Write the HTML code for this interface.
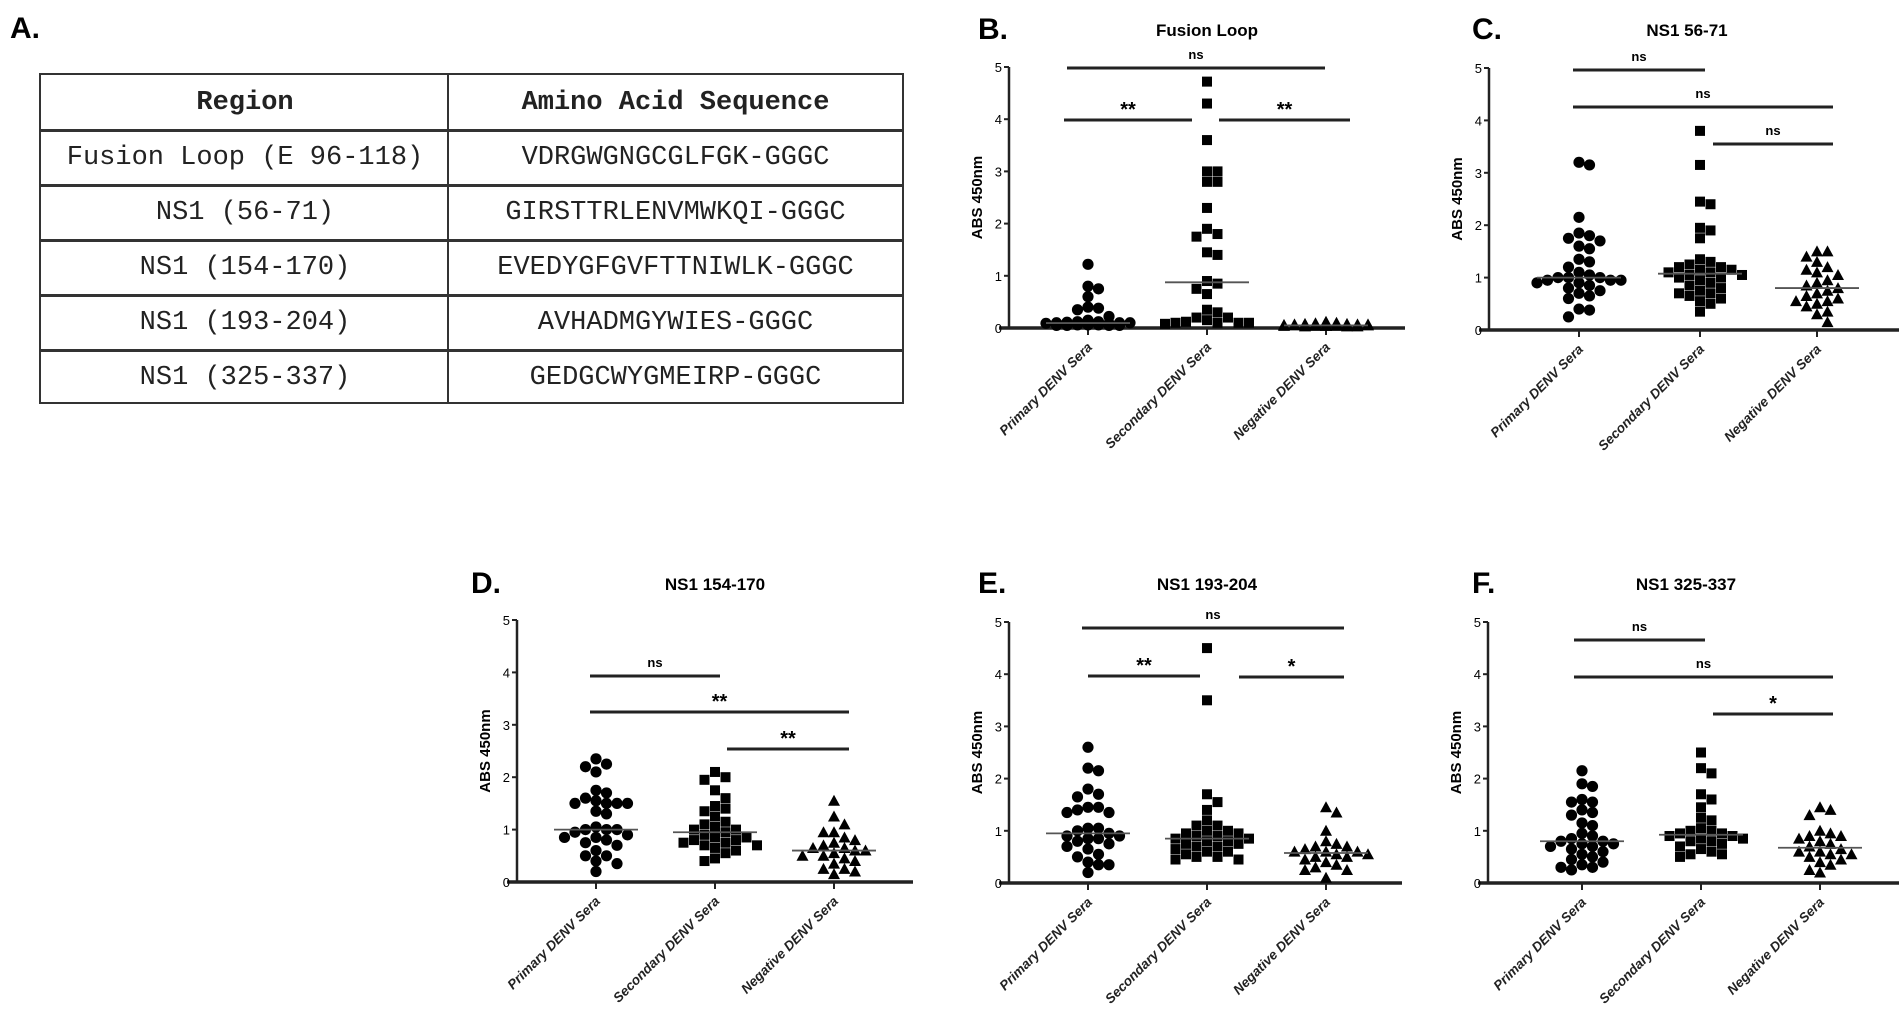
<!DOCTYPE html>
<html><head><meta charset="utf-8"><style>
html,body{margin:0;padding:0;background:#fff;}
#wrap{position:relative;width:1902px;height:1026px;overflow:hidden;font-family:"Liberation Sans",sans-serif;}
.cell{position:absolute;box-sizing:border-box;display:flex;align-items:center;justify-content:center;font-family:"Liberation Mono",monospace;font-size:27px;color:#222;}
.hl{position:absolute;background:#333;}
</style></head><body>
<div id="wrap">
<div style="position:absolute;left:10px;top:12px;font-size:30px;font-weight:bold;">A.</div>
<div id="table" style="position:absolute;left:39px;top:73px;width:865px;height:331px;border:2px solid #333;box-sizing:border-box;"></div>
<svg id="svg" width="1902" height="1026" style="position:absolute;left:0;top:0"></svg>
</div>
<script>
const regions=["Region","Fusion Loop (E 96-118)","NS1 (56-71)","NS1 (154-170)","NS1 (193-204)","NS1 (325-337)"];
const sequences=["Amino Acid Sequence","VDRGWGNGCGLFGK-GGGC","GIRSTTRLENVMWKQI-GGGC","EVEDYGFGVFTTNIWLK-GGGC","AVHADMGYWIES-GGGC","GEDGCWYGMEIRP-GGGC"];
const tbl=document.getElementById('table');
const rowH=55;
for(let i=0;i<6;i++){
  const a=document.createElement('div');a.className='cell';
  a.style.cssText+=`left:0;top:${i*rowH}px;width:408px;height:${rowH}px;${i==0?'font-weight:bold;':''}`;
  a.textContent=regions[i];
  
  
  tbl.appendChild(a);
  const b=document.createElement('div');b.className='cell';
  b.style.cssText+=`left:408px;top:${i*rowH}px;width:453px;height:${rowH}px;${i==0?'font-weight:bold;':''}`;
  b.textContent=sequences[i];
  
  
  tbl.appendChild(b);
  if(i>0){const l=document.createElement('div');l.className='hl';l.style.cssText=`left:0;top:${i*rowH-1}px;width:861px;height:3px;`;
  
  
  tbl.appendChild(l);}
}
const vd=document.createElement('div');vd.className='hl';vd.style.cssText='left:406px;top:0;width:2px;height:327px;';


tbl.appendChild(vd);

const categories=["Primary DENV Sera","Secondary DENV Sera","Negative DENV Sera"];
const yTicks=[0,1,2,3,4,5];
const bPrimary=[1.22,0.8,0.75,0.6,0.4,0.38,0.35,0.22,0.15,0.12,0.12,0.11,0.1,0.1,0.1,0.09,0.09,0.08,0.08,0.08,0.07,0.07,0.07,0.06,0.06,0.06,0.05,0.05,0.05,0.05];
const bSecondary=[4.72,4.3,3.6,3.0,3.0,2.8,2.8,2.3,1.9,1.8,1.75,1.45,1.4,0.9,0.85,0.75,0.65,0.35,0.3,0.2,0.2,0.15,0.12,0.1,0.1,0.1,0.1,0.08];
const bNegative=[0.12,0.1,0.09,0.08,0.08,0.07,0.07,0.07,0.06,0.06,0.06,0.06,0.05,0.05,0.05,0.05,0.05,0.04,0.04,0.04,0.04,0.04,0.03,0.03,0.03];
const cPrimary=[3.2,3.15,2.15,1.85,1.8,1.75,1.7,1.6,1.55,1.35,1.3,1.2,1.1,1.05,1.0,1.0,1.0,0.95,0.95,0.95,0.9,0.9,0.85,0.8,0.75,0.7,0.65,0.6,0.4,0.38,0.25];
const cSecondary=[3.8,3.15,2.45,2.4,1.95,1.9,1.75,1.35,1.3,1.25,1.2,1.2,1.15,1.15,1.1,1.1,1.05,1.05,1.0,1.0,0.95,0.9,0.85,0.8,0.75,0.7,0.7,0.65,0.6,0.55,0.5,0.35];
const cNegative=[1.5,1.5,1.4,1.3,1.2,1.15,1.1,1.05,0.95,0.9,0.85,0.8,0.75,0.7,0.65,0.6,0.55,0.55,0.5,0.45,0.35,0.3,0.15];
const dPrimary=[2.35,2.25,2.2,2.1,1.75,1.7,1.6,1.55,1.5,1.5,1.5,1.5,1.35,1.3,1.05,1.0,1.0,1.0,0.95,0.9,0.85,0.85,0.8,0.75,0.7,0.6,0.5,0.5,0.4,0.35,0.2];
const dSecondary=[2.1,2.0,1.95,1.75,1.6,1.45,1.4,1.35,1.25,1.15,1.1,1.05,1.0,1.0,0.95,0.9,0.85,0.85,0.8,0.8,0.75,0.75,0.7,0.7,0.65,0.6,0.55,0.45,0.4];
const dNegative=[1.55,1.25,1.1,0.95,0.95,0.85,0.8,0.75,0.7,0.65,0.65,0.6,0.6,0.55,0.5,0.5,0.45,0.4,0.35,0.25,0.25,0.2,0.15];
const ePrimary=[2.6,2.2,2.15,1.8,1.7,1.65,1.45,1.45,1.4,1.35,1.35,1.05,1.05,1.0,0.95,0.9,0.9,0.85,0.85,0.8,0.75,0.7,0.65,0.55,0.5,0.4,0.35,0.35,0.2];
const eSecondary=[4.5,3.5,1.7,1.55,1.4,1.2,1.1,1.1,1.0,1.0,0.95,0.95,0.9,0.9,0.85,0.85,0.8,0.8,0.75,0.75,0.7,0.7,0.65,0.6,0.6,0.55,0.5,0.5,0.45,0.45];
const eNegative=[1.45,1.35,1.0,0.8,0.75,0.7,0.7,0.65,0.6,0.6,0.6,0.55,0.55,0.5,0.5,0.45,0.4,0.35,0.3,0.25,0.25,0.1];
const fPrimary=[2.15,1.9,1.85,1.6,1.55,1.55,1.4,1.35,1.3,1.15,1.1,0.95,0.9,0.85,0.8,0.8,0.75,0.75,0.7,0.7,0.65,0.6,0.55,0.5,0.45,0.4,0.35,0.3,0.3,0.25];
const fSecondary=[2.5,2.2,2.1,1.7,1.6,1.45,1.25,1.2,1.05,1.0,1.0,0.95,0.95,0.9,0.9,0.85,0.85,0.8,0.8,0.75,0.7,0.65,0.6,0.55,0.55,0.5];
const fNegative=[1.45,1.4,1.3,1.0,0.95,0.9,0.9,0.85,0.8,0.75,0.7,0.65,0.6,0.6,0.55,0.55,0.5,0.45,0.4,0.35,0.25,0.2];
const titles=["Fusion Loop","NS1 56-71","NS1 154-170","NS1 193-204","NS1 325-337"];
const letters=["B.","C.","D.","E.","F."];

const NS='http://www.w3.org/2000/svg';
const svg=document.getElementById('svg');
function mk(tag,attrs,parent){const e=document.createElementNS(NS,tag);for(const k in attrs)e.setAttribute(k,attrs[k]);(parent||svg).appendChild(e);return e;}

const panels=[
 {key:'b',X0:1009,y0:328,y5:67,cats:[79,198,317],end:396,ty:36,series:[bPrimary,bSecondary,bNegative],
  sig:[[1067,1325,68,'ns'],[1064,1192,120,'**'],[1219,1350,120,'**']]},
 {key:'c',X0:1489,y0:330,y5:68,cats:[90,211,328],end:410,ty:36,series:[cPrimary,cSecondary,cNegative],
  sig:[[1573,1705,70,'ns'],[1573,1833,107,'ns'],[1713,1833,144,'ns']]},
 {key:'d',X0:517,y0:882,y5:620,cats:[79,198,317],end:396,ty:590,series:[dPrimary,dSecondary,dNegative],
  sig:[[590,720,676,'ns'],[590,849,712,'**'],[727,849,749,'**']]},
 {key:'e',X0:1009,y0:883,y5:622,cats:[79,198,317],end:393,ty:590,series:[ePrimary,eSecondary,eNegative],
  sig:[[1082,1344,628,'ns'],[1088,1200,676,'**'],[1239,1344,677,'*']]},
 {key:'f',X0:1488,y0:883,y5:622,cats:[94,213,332],end:411,ty:590,series:[fPrimary,fSecondary,fNegative],
  sig:[[1574,1705,640,'ns'],[1574,1833,677,'ns'],[1713,1833,714,'*']]}
];
const letterX=[978,1472,471,978,1472];

function median(a){const s=[...a].sort((x,y)=>x-y);const n=s.length;return n%2?s[(n-1)/2]:(s[n/2-1]+s[n/2])/2;}

panels.forEach((p,pi)=>{
  const g=mk('g',{});
  
  
  const yS=v=>p.y0-(p.y0-p.y5)*v/5;
  const xS=i=>p.X0+p.cats[i];
  const L=mk('text',{x:letterX[pi],y:p.ty+3,'font-size':30,'font-weight':'bold','font-family':'Liberation Sans'},g);L.textContent=letters[pi];
  
  
  const T=mk('text',{x:p.X0+198,y:p.ty,'font-size':17,'font-weight':'bold','text-anchor':'middle','font-family':'Liberation Sans'},g);T.textContent=titles[pi];
  
  
  const ya=mk('line',{x1:p.X0,y1:p.y5,x2:p.X0,y2:p.y0+1,stroke:'#222','stroke-width':2.5},g);
  
  
  const xa=mk('line',{x1:p.X0-10,y1:p.y0,x2:p.X0+p.end,y2:p.y0,stroke:'#222','stroke-width':3.5},g);
  
  
  yTicks.forEach(t=>{
    mk('line',{x1:p.X0-5,y1:yS(t),x2:p.X0,y2:yS(t),stroke:'#222','stroke-width':2},g);
    const tt=mk('text',{x:p.X0-7,y:yS(t)+5,'font-size':13,'text-anchor':'end','font-family':'Liberation Sans'},g);tt.textContent=t;
    
    
  });
  const yt=mk('text',{x:0,y:0,'font-size':15,'font-weight':'bold','text-anchor':'middle','font-family':'Liberation Sans',
    transform:`translate(${p.X0-27},${(p.y0+p.y5)/2}) rotate(-90)`},g);yt.textContent='ABS 450nm';
  
  
  categories.forEach((c,i)=>{
    mk('line',{x1:xS(i),y1:p.y0,x2:xS(i),y2:p.y0+7,stroke:'#222','stroke-width':2},g);
    const xt=mk('text',{x:0,y:0,'font-size':13.5,'font-style':'italic','font-weight':'bold','text-anchor':'end','font-family':'Liberation Sans',fill:'#222',
      transform:`translate(${xS(i)+5},${p.y0+20}) rotate(-45)`},g);xt.textContent=c;
    
    
  });
  p.series.forEach((vals,si)=>{
    const cx=xS(si);const placed=[];const D=10.5;const maxK=8;
    [...vals].sort((a,b)=>b-a).forEach(v=>{
      const y=yS(v);let off=null;let best=0,bestD=-1;
      for(let k=0;k<=maxK;k++){
        const cand=k==0?0:(k%2?1:-1)*Math.ceil(k/2)*D;
        let md=1e9;placed.forEach(q=>{md=Math.min(md,Math.hypot(q[0]-cand,q[1]-y));});
        if(md>=D-0.5){off=cand;break;}
        if(md>bestD+2){bestD=md;best=cand;}
      }
      if(off===null)off=best;
      placed.push([off,y]);
      const x=cx+off;let m;
      if(si==0)m=mk('circle',{cx:x,cy:y,r:5.6,fill:'#000'},g);
      else if(si==1)m=mk('rect',{x:x-5,y:y-5,width:10,height:10,fill:'#000'},g);
      else m=mk('polygon',{points:`${x},${y-6} ${x+6},${y+5} ${x-6},${y+5}`,fill:'#000'},g);
      
      
    });
    const md=mk('line',{x1:cx-42,y1:yS(median(vals)),x2:cx+42,y2:yS(median(vals)),stroke:'#555','stroke-width':1.8},g);
    
    
  });
  p.sig.forEach(s=>{
    const sl=mk('line',{x1:s[0],y1:s[2],x2:s[1],y2:s[2],stroke:'#222','stroke-width':3},g);
    
    
    const st=mk('text',{x:(s[0]+s[1])/2,y:s[2]-(s[3]=='ns'?9:4),'font-size':s[3]=='ns'?13:20,'font-weight':'bold','text-anchor':'middle','font-family':'Liberation Sans'},g);
    st.textContent=s[3];
    
    
  });
});
</script>
</body></html>
